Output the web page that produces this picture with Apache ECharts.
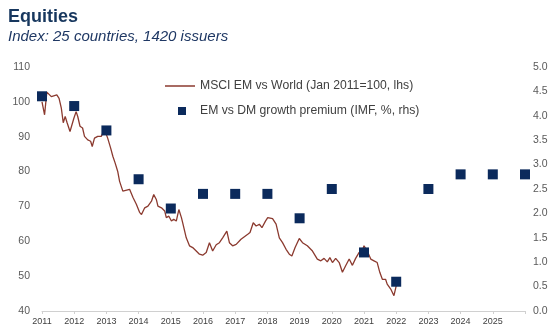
<!DOCTYPE html>
<html>
<head>
<meta charset="utf-8">
<script src="https://cdn.jsdelivr.net/npm/echarts@6/dist/echarts.min.js"></script>
<style>
  html, body { margin: 0; padding: 0; background: #fff; }
  #chart { width: 559px; height: 335px; }
</style>
</head>
<body>
<div id="chart"></div>
<script>
// MSCI EM relative to MSCI World, rebased Jan 2011 = 100 (decimal year, index level)
const emDates = [
  2011.00, 2011.08, 2011.15, 2011.29, 2011.46, 2011.53, 2011.60, 2011.66, 2011.72, 2011.78,
  2011.87, 2011.91, 2011.99, 2012.06, 2012.11, 2012.18, 2012.26, 2012.32, 2012.42, 2012.51,
  2012.56, 2012.63, 2012.73, 2012.84, 2012.94, 2013.04, 2013.13, 2013.20, 2013.27, 2013.35,
  2013.41, 2013.51, 2013.57, 2013.72, 2013.83, 2013.93, 2014.03, 2014.09, 2014.19, 2014.29,
  2014.40, 2014.47, 2014.55, 2014.60, 2014.71, 2014.81, 2014.86, 2014.94, 2015.02, 2015.09,
  2015.17, 2015.25, 2015.33, 2015.37, 2015.48, 2015.58, 2015.68, 2015.79, 2015.89, 2015.99,
  2016.10, 2016.20, 2016.30, 2016.41, 2016.51, 2016.61, 2016.74, 2016.82, 2016.92, 2017.03,
  2017.18, 2017.39, 2017.46, 2017.56, 2017.65, 2017.75, 2017.83, 2017.94, 2018.01, 2018.16,
  2018.27, 2018.37, 2018.47, 2018.58, 2018.68, 2018.76, 2018.86, 2018.99, 2019.09, 2019.24,
  2019.40, 2019.55, 2019.66, 2019.76, 2019.86, 2019.94, 2020.02, 2020.12, 2020.23, 2020.33,
  2020.43, 2020.54, 2020.64, 2020.74, 2020.85, 2020.90, 2021.00, 2021.10, 2021.21, 2021.31,
  2021.41, 2021.49, 2021.57, 2021.67, 2021.72, 2021.83, 2021.93, 2022.00
];
const emValues = [
  100.0, 96.3, 102.8, 101.5, 102.0, 101.0, 98.2, 94.0, 95.8, 94.0,
  91.5, 91.0, 95.3, 97.2, 95.8, 93.0, 92.5, 90.1, 89.1, 88.7,
  87.2, 89.6, 90.1, 90.1, 92.0, 89.6, 86.8, 84.4, 82.5, 80.1,
  77.2, 74.4, 74.0, 74.9, 72.5, 70.6, 68.3, 67.7, 69.6, 70.1,
  71.5, 73.4, 72.0, 70.1, 69.6, 68.7, 66.8, 67.2, 65.8, 66.3,
  65.8, 69.1, 66.8, 65.3, 61.0, 58.7, 58.2, 57.2, 56.3, 56.0,
  56.8, 59.6, 57.2, 59.0, 59.6, 61.0, 62.9, 59.6, 58.7, 59.1,
  60.6, 62.0, 62.5, 65.3, 64.4, 64.9, 63.9, 65.8, 66.8, 66.5,
  64.9, 61.0, 59.6, 57.7, 56.3, 55.8, 58.2, 60.8, 59.6, 58.7,
  57.2, 54.9, 54.4, 55.1, 54.1, 55.3, 53.9, 55.1, 53.9, 51.1,
  53.0, 54.9, 53.1, 55.1, 56.8, 55.8, 58.7, 57.2, 54.9, 54.4,
  53.9, 51.1, 49.1, 49.1, 47.7, 46.3, 44.4, 47.2
];

// EM minus DM real GDP growth, IMF (percentage points), one value per year
const premiumYears = [2011, 2012, 2013, 2014, 2015, 2016, 2017, 2018, 2019, 2020, 2021, 2022, 2023, 2024, 2025, 2026];
const premiumValues = [4.4, 4.2, 3.7, 2.7, 2.1, 2.4, 2.4, 2.4, 1.9, 2.5, 1.2, 0.6, 2.5, 2.8, 2.8, 2.8];

const xMin = 2011, xMax = 2026;
const lineName = 'MSCI EM vs World (Jan 2011=100, lhs)';
const dotName = 'EM vs DM growth premium (IMF, %, rhs)';

const LINE_COLOR = '#8b3a2f';
const DOT_COLOR = '#0b2a5c';
const LABEL_COLOR = '#595959';
const FONT = 'Liberation Sans, Arial';

const chart = echarts.init(document.getElementById('chart'), null, { renderer: 'canvas' });

chart.setOption({
  backgroundColor: '#ffffff',
  animation: false,
  title: [
    {
      text: 'Equities',
      left: 3, top: 3,
      textStyle: { fontFamily: FONT, fontSize: 18, fontWeight: 'bold', color: '#17375e' }
    },
    {
      text: 'Index: 25 countries, 1420 issuers',
      left: 3, top: 24,
      textStyle: { fontFamily: FONT, fontSize: 15, fontStyle: 'italic', fontWeight: 'normal', color: '#1f3864' }
    }
  ],
  legend: [
    {
      data: [{ name: lineName, icon: 'rect' }],
      left: 160, top: 75,
      itemWidth: 30, itemHeight: 1.5,
      textStyle: { fontFamily: FONT, fontSize: 12.2, color: '#404040' }
    },
    {
      data: [{ name: dotName, icon: 'rect' }],
      left: 173, top: 100,
      itemWidth: 8, itemHeight: 8,
      textStyle: { fontFamily: FONT, fontSize: 12.2, color: '#404040', padding: [0, 0, 0, 9] }
    }
  ],
  grid: { left: 42, right: 34, top: 67, bottom: 24, containLabel: false },
  xAxis: {
    type: 'value',
    min: xMin, max: xMax, interval: 1,
    axisLine: { show: true, lineStyle: { color: '#d0d0d0', width: 1 } },
    axisTick: { show: true, length: 3, lineStyle: { color: '#d0d0d0' } },
    splitLine: { show: false },
    axisLabel: {
      fontFamily: FONT, fontSize: 9, color: '#404040', margin: 6,
      formatter: v => (v >= xMax ? '' : String(v))
    }
  },
  yAxis: [
    {
      type: 'value',
      min: 40, max: 110, interval: 10,
      position: 'left',
      axisLine: { show: false }, axisTick: { show: false },
      splitLine: { show: false },
      axisLabel: { fontFamily: FONT, fontSize: 10.5, color: LABEL_COLOR, margin: 12 }
    },
    {
      type: 'value',
      min: 0, max: 5, interval: 0.5,
      position: 'right',
      axisLine: { show: false }, axisTick: { show: false },
      splitLine: { show: false },
      axisLabel: {
        fontFamily: FONT, fontSize: 10.5, color: LABEL_COLOR, margin: 8,
        formatter: v => v.toFixed(1)
      }
    }
  ],
  series: [
    {
      name: lineName,
      type: 'line',
      yAxisIndex: 0,
      data: emDates.map((d, i) => [d, emValues[i]]),
      symbol: 'none',
      smooth: false,
      lineStyle: { color: LINE_COLOR, width: 1.3 },
      itemStyle: { color: LINE_COLOR },
      z: 2
    },
    {
      name: dotName,
      type: 'scatter',
      yAxisIndex: 1,
      data: premiumYears.map((y, i) => [y, premiumValues[i]]),
      symbol: 'rect',
      symbolSize: 10,
      itemStyle: { color: DOT_COLOR, opacity: 1 },
      clip: false,
      z: 3
    }
  ]
});
</script>
</body>
</html>
